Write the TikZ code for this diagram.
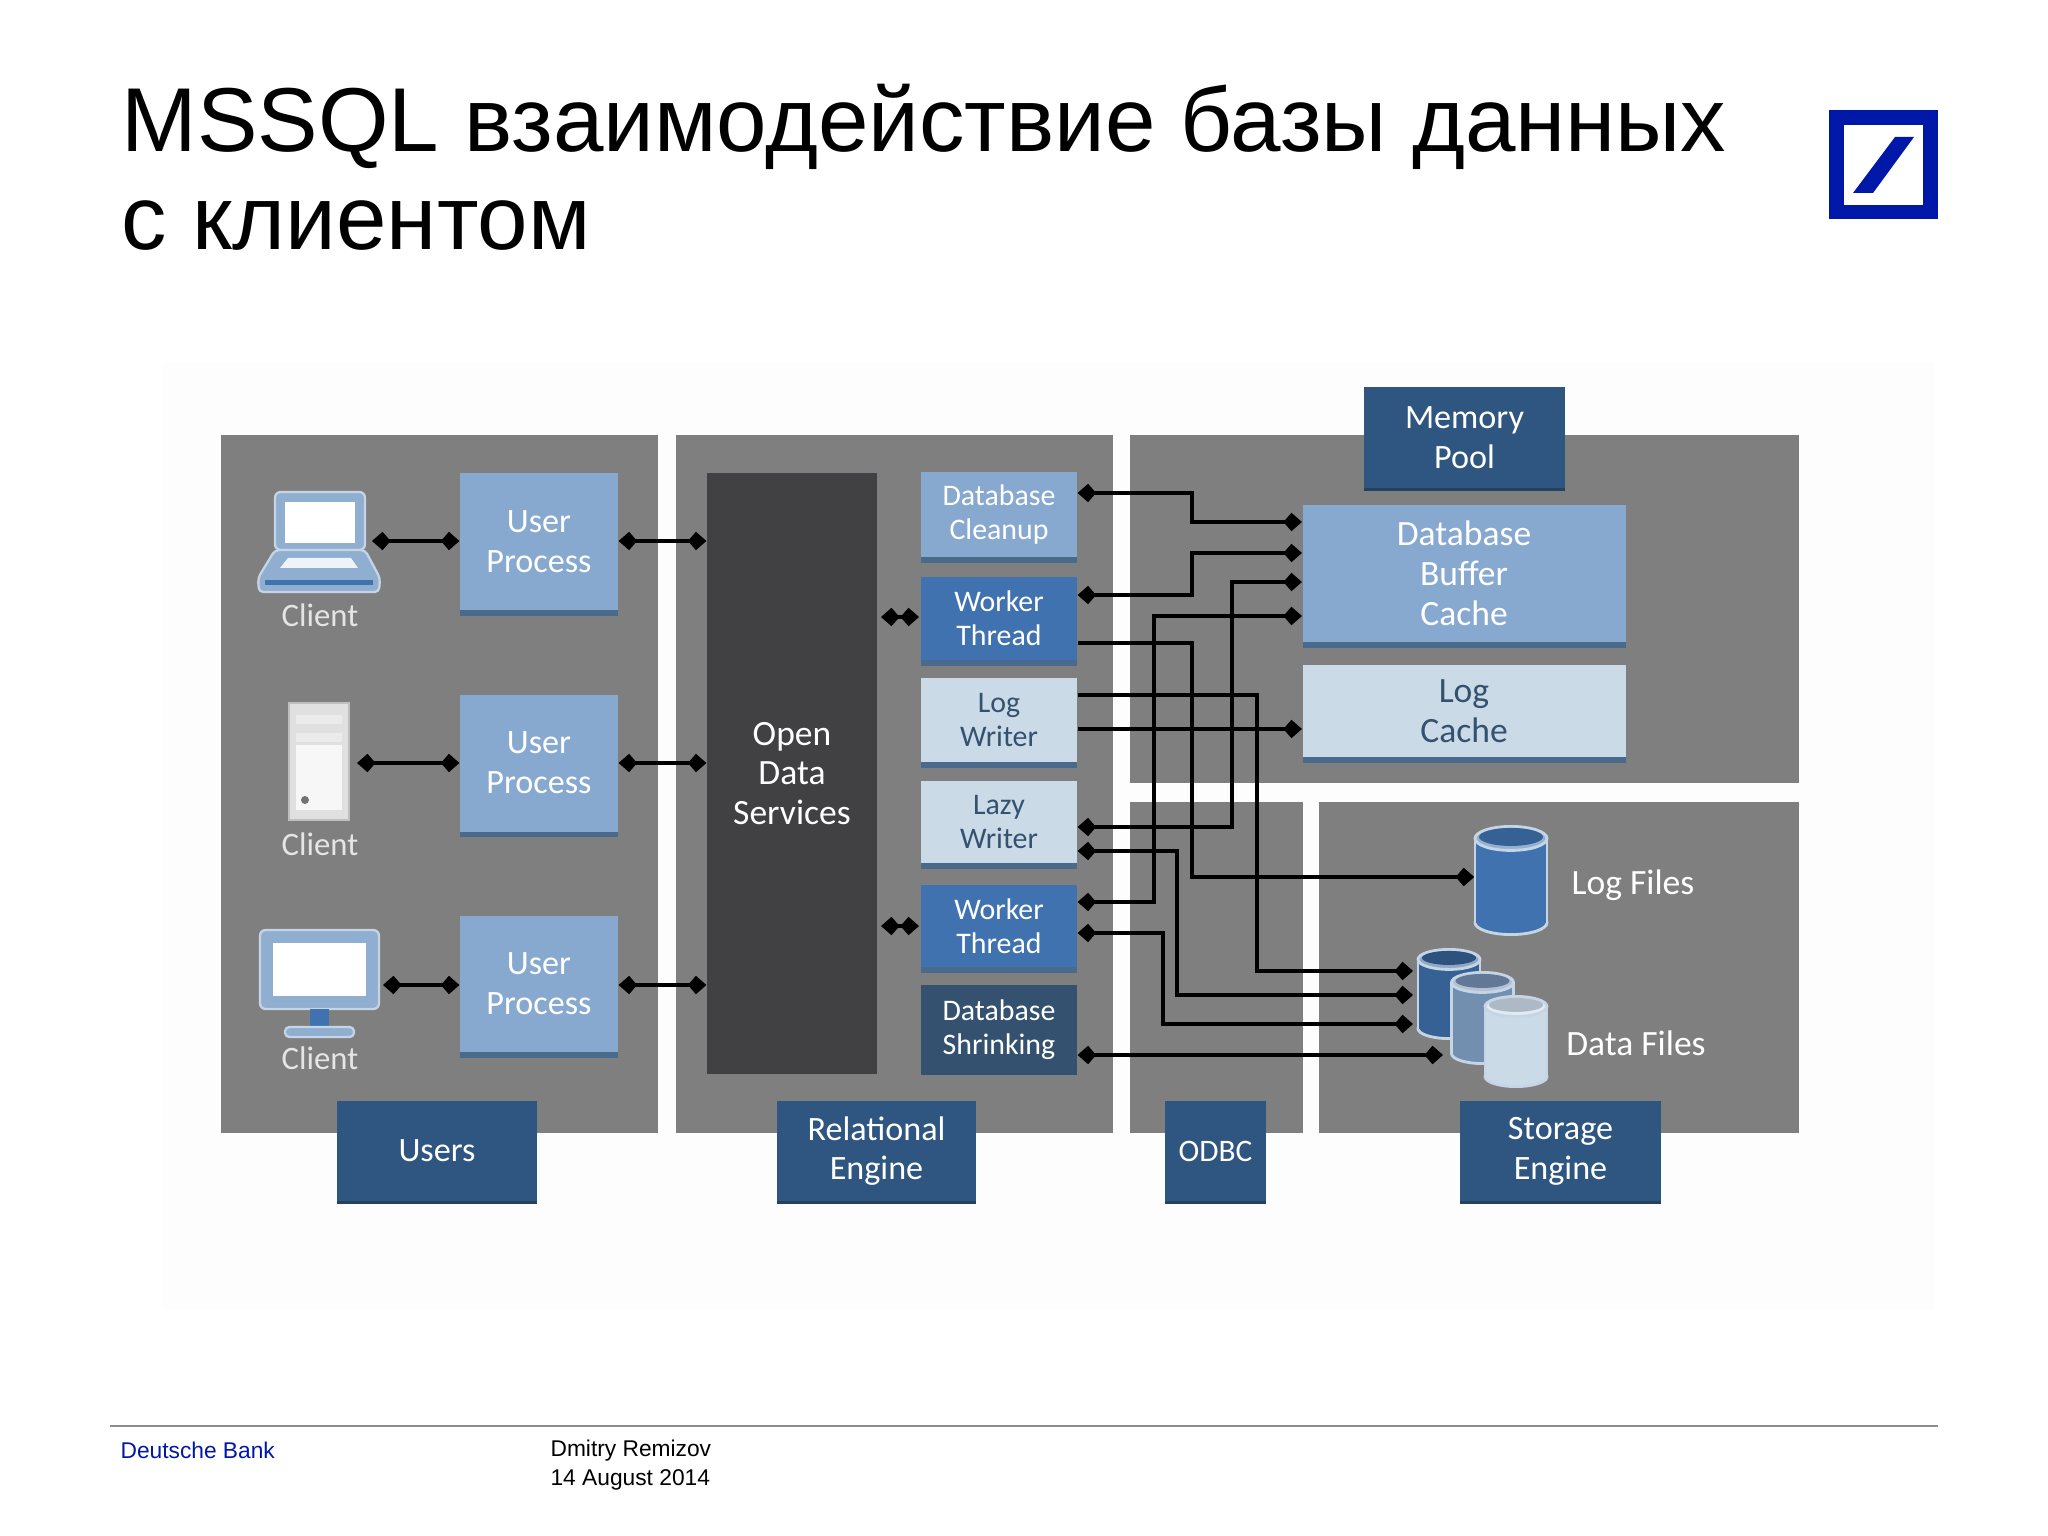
\documentclass[tikz,border=0pt]{standalone}
\usepackage{fontspec}
\setmainfont{Liberation Sans}
\newfontfamily\boxfont{Carlito}
\usetikzlibrary{arrows.meta,shadows,calc}

\definecolor{panelgray}{HTML}{807F80}
\definecolor{navy}{HTML}{2F5680}
\definecolor{navyedge}{HTML}{24415F}
\definecolor{midblue}{HTML}{87A8CF}
\definecolor{midedge}{HTML}{4A6A8C}
\definecolor{workerblue}{HTML}{3F72AE}
\definecolor{paleblue}{HTML}{CBDAE7}
\definecolor{slateblue}{HTML}{34526F}
\definecolor{darkcore}{HTML}{414042}
\definecolor{dbblue}{HTML}{0018A8}
\definecolor{iconline}{HTML}{8FAED0}
\definecolor{iconrim}{HTML}{C5D5E6}
\newcommand{\px}{0.3515625pt}

% database drum drawn inside an empty node: node, colour, half width, cap radius
\newcommand{\dbbody}[4]{
  \coordinate (dbtop) at ($(#1.north)+(0,#4)$);
  \coordinate (dbbot) at ($(#1.south)+(0,-#4)$);
  \filldraw[fill=#2,draw=iconrim,line width=1pt] (dbbot) ellipse [x radius=#3*\px,y radius=#4*\px];
  \fill[#2] ($(dbtop)+(-#3,0)$) rectangle ($(dbbot)+(#3,0)$);
  \draw[iconrim,line width=1pt] ($(dbtop)+(-#3,0)$) -- ($(dbbot)+(-#3,0)$);
  \draw[iconrim,line width=1pt] ($(dbtop)+(#3,0)$) -- ($(dbbot)+(#3,0)$);
  \filldraw[fill=#2!55!white,draw=iconrim,line width=1pt] (dbtop) ellipse [x radius=#3*\px,y radius=#4*\px];
  \fill[#2!85!black] ($(dbtop)+(0,-1.5)$) ellipse [x radius={(#3-4)*\px},y radius={(#4-3)*\px}];
}

\tikzset{
  sz/.style 2 args={minimum width=#1*\px,minimum height=#2*\px},
  every node/.style={inner sep=0pt,align=center},
  panel/.style={fill=panelgray},
  tagbox/.style={fill=navy,text=white,font=\boxfont\fontsize{12}{14}\selectfont,
    general shadow={fill=navyedge,shadow yshift=-1pt}},
  procbox/.style={fill=#1,text=white,font=\boxfont\fontsize{12}{14}\selectfont,
    general shadow={fill=midedge,shadow yshift=-2pt}},
  taskbox/.style={fill=#1,text=white,font=\boxfont\fontsize{10.5}{12}\selectfont,
    general shadow={fill=midedge,shadow yshift=-2pt}},
  darktext/.style={text=slateblue},
  clientlbl/.style={text=white!90!black,font=\boxfont\fontsize{11.5}{14}\selectfont},
  filelbl/.style={text=white,font=\boxfont\fontsize{12.5}{14}\selectfont},
  rimline/.style={draw=iconrim,line width=.8pt,line join=round},
  link/.style={line width=1.6pt,{Kite[length=6.5pt,width=6.5pt,inset=2.8pt]}-{Kite[length=6.5pt,width=6.5pt,inset=2.8pt]}},
  linkout/.style={line width=1.6pt,-{Kite[length=6.5pt,width=6.5pt,inset=2.8pt]}}
}

\begin{document}
\begin{tikzpicture}[x=\px,y=-\px]
  \useasboundingbox (0,0) rectangle (2048,1536);
  \fill[white] (0,0) rectangle (2048,1536);
  \fill[black!0.8] (163,362) rectangle (1935,1310);

  % title
  \node[anchor=west,align=left,font=\fontsize{31.9}{34.5}\selectfont] (title) at (121,167)
    {MSSQL взаимодействие базы данных\\с клиентом};

  % logo
  \fill[dbblue] (1829,110) rectangle (1938,219);
  \fill[white] (1844,125) rectangle (1923,205);
  \fill[dbblue] (1853,193) -- (1895,137) -- (1914,137) -- (1873,193) -- cycle;

  % panels
  \node[panel,sz={437}{698}] (userspanel) at (439.5,784) {};
  \node[panel,sz={437}{698}] (relpanel) at (894.5,784) {};
  \node[panel,sz={668.5}{348}] (mempanel) at (1464.25,609) {};
  \node[panel,sz={172.5}{331}] (odbcpanel) at (1216.25,967.5) {};
  \node[panel,sz={479.5}{331}] (storepanel) at (1558.75,967.5) {};

  % clients
  \filldraw[fill=iconline,rimline,rounded corners=2pt] (275,492) rectangle (365,550);
  \fill[white] (285,502) rectangle (355,543);
  \filldraw[fill=iconline,rimline,rounded corners=1.5pt] (275,550) -- (365,550) -- (380,578) -- (379,592) -- (259,592) -- (258,578) -- cycle;
  \fill[white!85!iconline] (288,558) -- (351,558) -- (358,568) -- (280,568) -- cycle;
  \fill[workerblue] (265,580) rectangle (373,585);
  \node[clientlbl] (client1) at (320,615) {Client};

  \filldraw[fill=black!12,draw=black!25,line width=.5pt] (289,703) rectangle (349,820);
  \fill[white!97!black] (296,745) rectangle (342,810);
  \foreach \yy in {724,742}
    \fill[white!92!black] (296,\yy-9) rectangle (342,\yy);
  \fill[black!55] (305,800) circle (4);
  \node[clientlbl] (client2) at (320,844) {Client};

  \filldraw[fill=iconline,rimline,rounded corners=2pt] (260,930) rectangle (379,1009);
  \fill[white] (273,943) rectangle (366,996);
  \fill[workerblue] (310,1009) rectangle (329,1027);
  \filldraw[fill=iconline,rimline,rounded corners=1.5pt] (285,1027) rectangle (354,1037);
  \node[clientlbl] (client3) at (320,1058) {Client};

  % user processes
  \node[procbox=midblue,sz={158}{137}] (proc1) at (539,541.5) {User\\Process};
  \node[procbox=midblue,sz={158}{137}] (proc2) at (539,763) {User\\Process};
  \node[procbox=midblue,sz={158}{136}] (proc3) at (539,984) {User\\Process};

  % engine
  \node[fill=darkcore,text=white,font=\boxfont\fontsize{12.5}{14}\selectfont,sz={170}{601}] (ods) at (792,773.5)
    {Open\\Data\\Services};
  \node[taskbox=midblue,sz={156}{85}] (cleanup) at (999,514.5) {Database\\Cleanup};
  \node[taskbox=workerblue,sz={156}{83}] (worker1) at (999,618.5) {Worker\\Thread};
  \node[taskbox=paleblue,darktext,sz={156}{84}] (logwriter) at (999,720) {Log\\Writer};
  \node[taskbox=paleblue,darktext,sz={156}{82}] (lazywriter) at (999,822) {Lazy\\Writer};
  \node[taskbox=workerblue,sz={156}{82}] (worker2) at (999,926) {Worker\\Thread};
  \node[fill=slateblue,text=white,font=\boxfont\fontsize{10.5}{12}\selectfont,sz={156}{90}] (shrink) at (999,1030) {Database\\Shrinking};

  % memory
  \node[procbox=midblue,font=\boxfont\fontsize{12.5}{14}\selectfont,sz={323}{137}] (buffer) at (1464,573.5) {Database\\Buffer\\Cache};
  \node[procbox=paleblue,darktext,font=\boxfont\fontsize{12.5}{14}\selectfont,sz={323}{92}] (logcache) at (1464,711) {Log\\Cache};

  % storage
  \node[sz={72.5}{107}] (logfiles) at (1511,880.5) {};
  \dbbody{logfiles}{workerblue}{36}{12}
  \node[filelbl] (logfileslbl) at (1633,885) {Log Files};
  \node[sz={62}{88}] (data1) at (1449,994) {};
  \dbbody{data1}{workerblue!85!black}{31}{10}
  \node[sz={63}{90}] (data2) at (1482.5,1018) {};
  \dbbody{data2}{midblue!85!black}{31}{10}
  \node[sz={62.5}{89}] (data3) at (1516,1041.5) {};
  \dbbody{data3}{paleblue}{31}{10}
  \node[filelbl] (datafileslbl) at (1636,1043) {Data Files};

  % tags
  \node[tagbox,sz={200}{100}] (tagusers) at (437,1151) {Users};
  \node[tagbox,sz={199}{100}] (tagrel) at (876.5,1151) {Relational\\Engine};
  \node[tagbox,font=\boxfont\fontsize{11}{14}\selectfont,sz={101}{100}] (tagodbc) at (1215.5,1151) {ODBC};
  \node[tagbox,sz={201}{100}] (tagstore) at (1560.5,1151) {Storage\\Engine};
  \node[tagbox,sz={201}{101}] (tagmem) at (1464.5,437.5) {Memory\\Pool};

  % ports
  \coordinate (laptopR) at (372,541);
  \coordinate (serverR) at (357,763);
  \coordinate (monitorR) at (383,985);
  \coordinate (w1L) at (881,617);
  \coordinate (w1M) at (919,617);
  \coordinate (w2L) at (881,926);
  \coordinate (w2M) at (919,926);
  \coordinate (a1) at (cleanup.east |- 0,493);   \coordinate (b1) at (buffer.west |- 0,522);
  \coordinate (a2) at (worker1.east |- 0,595);   \coordinate (b2) at (buffer.west |- 0,553);
  \coordinate (a3) at (lazywriter.east |- 0,827);\coordinate (b3) at (buffer.west |- 0,582);
  \coordinate (a4) at (worker2.east |- 0,902);   \coordinate (b4) at (buffer.west |- 0,616);
  \coordinate (a5) at (lazywriter.east |- 0,851);\coordinate (b5) at (1413,995);
  \coordinate (a6) at (worker2.east |- 0,933);   \coordinate (b6) at (1413,1024);
  \coordinate (a7) at (worker1.east |- 0,643);   \coordinate (b7) at (logfiles.west |- 0,877);
  \coordinate (a8) at (logwriter.east |- 0,695); \coordinate (b8) at (1413,971);
  \coordinate (a9) at (logwriter.east |- 0,729); \coordinate (b9) at (logcache.west |- 0,729);
  \coordinate (a10) at (shrink.east |- 0,1055);  \coordinate (b10) at (1443,1055);
  \coordinate (p1) at (proc1.west |- laptopR);
  \coordinate (p2) at (proc2.west |- serverR);
  \coordinate (p3) at (proc3.west |- monitorR);
  \coordinate (q1) at (ods.west |- laptopR);
  \coordinate (q2) at (ods.west |- serverR);
  \coordinate (q3) at (ods.west |- monitorR);
  \coordinate (r1) at (proc1.east |- laptopR);
  \coordinate (r2) at (proc2.east |- serverR);
  \coordinate (r3) at (proc3.east |- monitorR);

  \foreach \from/\to in {laptopR/p1,serverR/p2,monitorR/p3,r1/q1,r2/q2,r3/q3,a10/b10,w1L/w1M,w2L/w2M}
    \draw[link] (\from) -- (\to);
  \draw[linkout] (a9) -- (b9);

  \foreach \from/\to/\xx in {a1/b1/1192,a2/b2/1192,a3/b3/1232,a4/b4/1154,a5/b5/1177,a6/b6/1163}
    \draw[link] (\from) -- (\xx,0 |- \from) -- (\xx,0 |- \to) -- (\to);
  \foreach \from/\to/\xx in {a7/b7/1192,a8/b8/1257}
    \draw[linkout] (\from) -- (\xx,0 |- \from) -- (\xx,0 |- \to) -- (\to);

  % footer
  \coordinate (footL) at (110,1426);
  \coordinate (footR) at (1938,1426);
  \draw[black!45,line width=.5pt] (footL) -- (footR);
  \node[anchor=west,text=dbblue,font=\fontsize{8}{9.6}\selectfont] (bank) at (120,1450) {Deutsche Bank};
  \node[anchor=west,align=left,font=\fontsize{8}{10.1}\selectfont] (author) at (550,1465)
    {Dmitry Remizov\\14 August 2014};
\end{tikzpicture}
\end{document}
